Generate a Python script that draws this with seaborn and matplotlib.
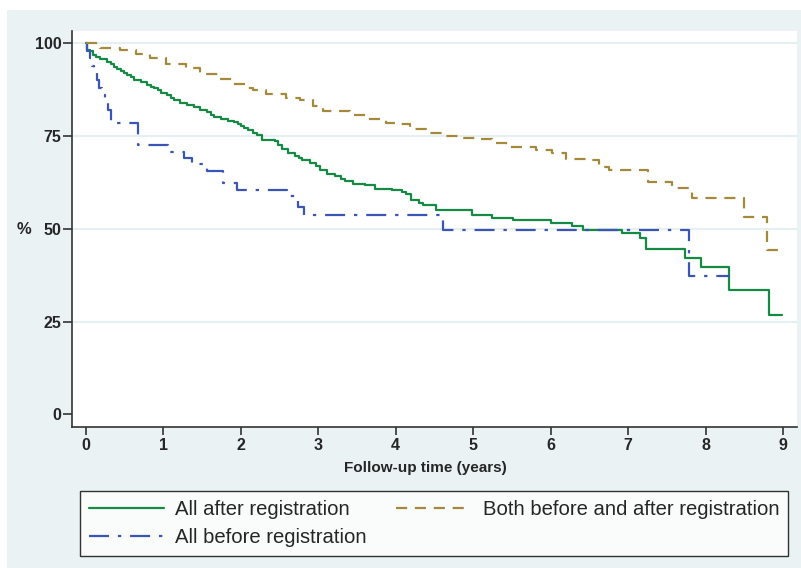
import matplotlib
matplotlib.use("Agg")
import matplotlib.pyplot as plt
import seaborn as sns
import pandas as pd
from matplotlib.patches import Rectangle
from matplotlib.lines import Line2D

# ---------------- data ----------------
after_t = [0, 0.02, 0.06, 0.10, 0.13, 0.19, 0.28, 0.32, 0.36, 0.41, 0.45, 0.50, 0.53, 0.58,
           0.62, 0.71, 0.79, 0.84, 0.88, 0.93, 0.97, 1.05, 1.10, 1.14, 1.22, 1.31, 1.40,
           1.48, 1.57, 1.62, 1.65, 1.74, 1.83, 1.91, 1.96, 2.00, 2.04, 2.10, 2.16, 2.21,
           2.27, 2.44, 2.48, 2.53, 2.61, 2.70, 2.75, 2.79, 2.89, 2.97, 3.03, 3.11, 3.22,
           3.30, 3.35, 3.45, 3.60, 3.73, 3.95, 4.08, 4.14, 4.20, 4.30, 4.35, 4.52, 4.98,
           5.25, 5.51, 6.01, 6.27, 6.42, 6.92, 7.15, 7.23, 7.74, 7.94, 8.30, 8.82, 8.98]
after_s = [100, 98.2, 97.8, 96.8, 96.4, 95.7, 94.9, 94.3, 93.7, 93.1, 92.6, 92.0, 91.5, 90.8,
           90.1, 89.5, 88.8, 88.3, 87.9, 87.3, 86.7, 86.1, 85.3, 84.7, 83.8, 83.4, 82.8,
           82.0, 81.4, 80.8, 80.2, 79.6, 79.1, 78.7, 78.2, 77.8, 77.1, 76.6, 75.9, 75.2,
           74.0, 73.7, 72.6, 71.6, 70.5, 69.6, 69.0, 68.5, 67.7, 66.8, 65.8, 64.9, 64.2,
           63.5, 62.9, 62.1, 61.7, 60.8, 60.5, 59.9, 59.3, 57.7, 57.0, 56.3, 55.0, 53.6,
           53.0, 52.3, 51.6, 50.8, 49.8, 48.9, 47.4, 44.6, 42.1, 39.7, 33.6, 26.9, 26.9]

both_t = [0, 0.18, 0.44, 0.65, 0.83, 1.04, 1.30, 1.47, 1.73, 1.90, 2.05, 2.16, 2.33, 2.59,
          2.76, 2.93, 3.06, 3.41, 3.62, 3.88, 4.05, 4.18, 4.39, 4.60, 4.82, 5.04, 5.25,
          5.47, 5.81, 6.02, 6.20, 6.46, 6.63, 6.76, 7.26, 7.57, 7.83, 8.50, 8.79, 8.95]
both_s = [100, 98.7, 98.1, 97.0, 95.9, 94.5, 93.2, 91.6, 90.5, 89.1, 88.0, 87.3, 86.2, 85.3,
          84.6, 83.0, 81.7, 80.8, 79.7, 78.5, 78.2, 77.0, 75.7, 75.0, 74.6, 74.1, 73.0,
          72.1, 71.2, 70.3, 68.7, 68.5, 66.7, 65.8, 62.6, 61.0, 58.4, 53.2, 44.2, 44.2]

before_t = [0, 0.02, 0.05, 0.08, 0.11, 0.14, 0.17, 0.21, 0.25, 0.29, 0.33, 0.67, 1.06, 1.27,
            1.37, 1.56, 1.77, 1.95, 2.60, 2.74, 2.82, 4.61, 7.78, 8.32]
before_s = [100, 98.0, 96.0, 94.0, 92.0, 90.0, 88.0, 86.0, 84.0, 82.0, 78.6, 72.5, 70.7, 69.2,
            67.4, 65.6, 62.4, 60.4, 58.8, 56.0, 53.6, 49.6, 37.2, 37.2]

labels = ["All after registration", "All before registration",
          "Both before and after registration"]
colors = ["#168A45", "#3B55B5", "#A3893C"]
yticks = [0, 25, 50, 75, 100]
xticks = list(range(10))

# ---------------- figure ----------------
sns.set_style("white")
plt.rcParams["font.family"] = ["Liberation Sans", "DejaVu Sans"]

W, H = 801, 568
fig = plt.figure(figsize=(W / 100, H / 100), dpi=100)
fig.patch.set_facecolor("white")
fig.patches.append(Rectangle((7 / W, 0), 1 - 7 / W, (H - 10) / H, transform=fig.transFigure,
                             facecolor="#EAF2F3", edgecolor="none", zorder=-10))

ax = fig.add_axes([72 / W, 1 - 427 / H, (797 - 72) / W, (427 - 31) / H])
ax.set_facecolor("white")

styles = ["-", (0, (9, 4, 1.5, 4)), (0, (5, 3.5))]
series = [(after_t, after_s), (before_t, before_s), (both_t, both_s)]
handles = []
for (t, s), lab, col, ls in zip(series, labels, colors, styles):
    df = pd.DataFrame({"t": t, "s": s})
    sns.lineplot(data=df, x="t", y="s", ax=ax, color=col, linewidth=1.6,
                 drawstyle="steps-post", estimator=None, sort=False, zorder=3)
    ln = ax.lines[-1]
    ln.set_linestyle(ls)
    handles.append(Line2D([0], [0], color=col, lw=1.6, linestyle=ls))

ax.set_xlim(-0.177, 9.18)
ax.set_ylim(-3.4, 103.3)
ax.set_xticks(xticks)
ax.set_yticks(yticks)
ax.set_xticklabels([str(v) for v in xticks], fontsize=11.5, fontweight="bold")
ax.set_yticklabels([str(v) for v in yticks], fontsize=11.5, fontweight="bold")
ax.tick_params(axis="y", direction="out", length=6.2, width=1.2, color="#333333",
               left=True, pad=1.2)
ax.tick_params(axis="x", direction="out", length=5.5, width=1.2, color="#333333",
               bottom=True, pad=2.5)
for v in [25, 50, 75, 100]:
    ax.axhline(v, color="#E6EFF1", lw=1.5, zorder=1)
ax.grid(False)
for sp in ["top", "right"]:
    ax.spines[sp].set_visible(False)
for sp in ["left", "bottom"]:
    ax.spines[sp].set_color("#333333")
    ax.spines[sp].set_linewidth(1.2)
ax.set_xlabel("")
ax.set_ylabel("")

fig.text(24 / W, 1 - 230 / H, "%", fontsize=12, fontweight="bold", ha="center", va="center")
fig.text(425 / W, 1 - 468 / H, "Follow-up time (years)", fontsize=11, fontweight="bold",
         ha="center", va="center")

leg = fig.legend(handles, labels, loc="upper left", bbox_to_anchor=(80 / W, 1 - 491 / H),
                 ncol=2, frameon=True, fancybox=False, edgecolor="black",
                 handlelength=3.7, handletextpad=0.55, columnspacing=1.45, borderpad=0.45,
                 labelspacing=0.42, borderaxespad=0,
                 prop={"size": 14.6, "family": "Liberation Sans"})
leg.get_frame().set_linewidth(1.0)
leg.get_frame().set_facecolor("white")

fig.savefig("out.png", dpi=100)
